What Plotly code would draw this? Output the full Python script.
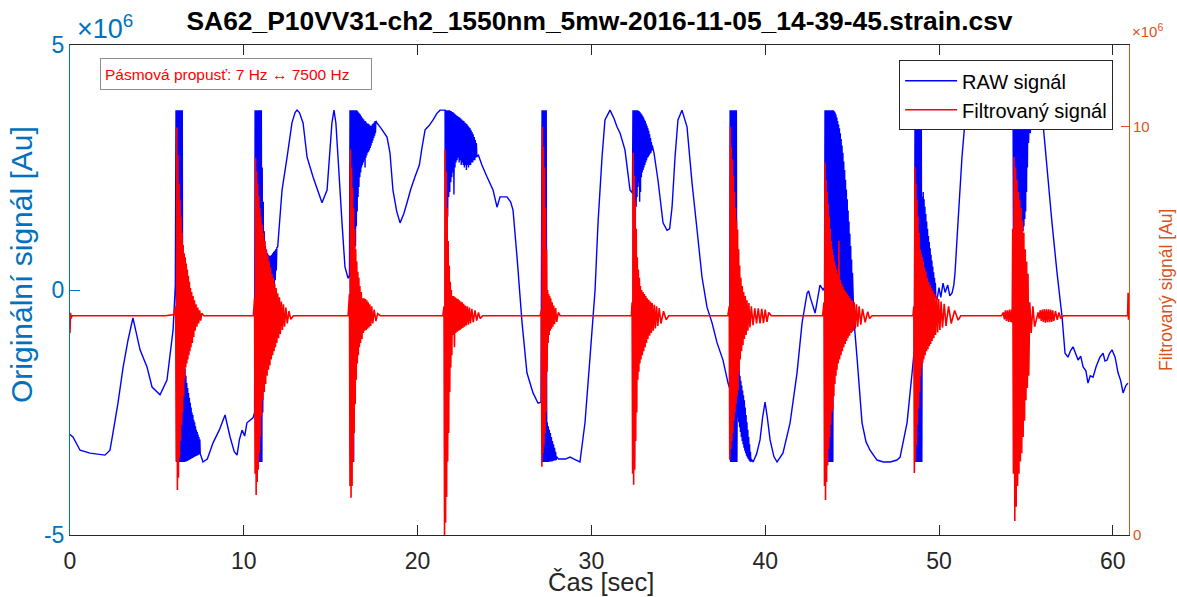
import plotly.graph_objects as go

# ---------------- axis / tick data ----------------
x_ticks = [0, 10, 20, 30, 40, 50, 60]
y_left_ticks = [-5, 0, 5]
y_left_ticktext = ["-5", "0", "5"]
y_right_ticks = [0, 10]


def interleave(upper, lower):
    """Alternate read-off upper/lower envelope samples of a dense oscillation."""
    out = []
    for i, u in enumerate(upper):
        out.append(u)
        if i < len(lower):
            out.append(lower[i])
    return out


# ---------------- RAW signal (x10^6 Au) ----------------
raw_t_s0 = [0.00, 0.17, 0.58, 1.15, 2.01, 2.30, 2.47, 2.76, 3.05, 3.34, 3.62, 4.03, 4.43, 4.72, 5.18, 5.58, 5.93, 6.06]
raw_v_s0 = [-2.95, -3.00, -3.27, -3.33, -3.37, -3.27, -2.92, -2.31, -1.59, -1.02, -0.57, -1.22, -1.57, -1.98, -2.14, -1.84, -0.82, 0.10]
raw_t_b1 = [6.10, 6.13, 6.16, 6.19, 6.22, 6.25, 6.28, 6.31, 6.34, 6.37, 6.40, 6.43, 6.46, 6.49]
raw_v_b1 = [3.67, -3.51, 3.67, -3.51, 3.67, -3.51, 3.67, -3.51, 3.67, -3.51, 3.67, -3.51, 3.67, -3.51]
raw_t_p1 = [6.520, 6.545, 6.570, 6.595, 6.620, 6.645, 6.670, 6.695, 6.720, 6.745, 6.770, 6.795, 6.820, 6.845, 6.870, 6.895, 6.920, 6.945, 6.970, 6.995,
            7.020, 7.045, 7.070, 7.095, 7.120, 7.145, 7.170, 7.195, 7.220, 7.245, 7.270, 7.295, 7.320, 7.345, 7.370, 7.395, 7.420, 7.445, 7.470, 7.495]
raw_u_p1 = [-1.45, -1.50, -1.60, -1.75, -1.90, -2.00, -2.10, -2.20, -2.30, -2.40, -2.50, -2.55, -2.65, -2.70, -2.78, -2.85, -2.90, -2.95, -3.00, -3.05]
raw_l_p1 = [-3.51, -3.51, -3.50, -3.50, -3.49, -3.48, -3.47, -3.46, -3.45, -3.44, -3.43, -3.42, -3.41, -3.40, -3.39, -3.38, -3.37, -3.36, -3.35, -3.35]
raw_t_s1 = [7.55, 7.65, 7.90, 8.23, 8.60, 8.92, 9.05, 9.21, 9.45, 9.61, 9.75, 9.90, 10.05, 10.18, 10.53, 10.62]
raw_v_s1 = [-3.40, -3.51, -3.45, -3.12, -2.85, -2.55, -2.75, -3.00, -3.30, -3.37, -3.05, -2.86, -2.98, -2.71, -2.61, -2.50]
raw_t_b2 = [10.65, 10.68, 10.71, 10.74, 10.77, 10.80, 10.83, 10.86, 10.89, 10.92, 10.95, 10.98, 11.01, 11.04]
raw_v_b2 = [3.67, -3.51, 3.67, -3.51, 3.67, -3.51, 3.67, -3.51, 3.67, -3.51, 3.67, -3.51, 3.67, -3.51]
raw_t_p2 = [11.06, 11.09, 11.12, 11.15, 11.18, 11.21, 11.24, 11.27, 11.30, 11.33, 11.36, 11.39, 11.42, 11.45, 11.48,
            11.51, 11.54, 11.57, 11.60, 11.63, 11.66, 11.69, 11.72, 11.75, 11.78, 11.81, 11.84, 11.87, 11.90]
raw_u_p2 = [2.50, 1.80, 1.20, 0.90, 0.80, 0.75, 0.72, 0.70, 0.70, 0.72, 0.75, 0.78, 0.80, 0.83, 0.86]
raw_l_p2 = [-2.50, -1.50, -0.80, -0.40, -0.25, -0.20, -0.15, -0.12, -0.10, -0.05, 0.00, 0.10, 0.20, 0.40]
raw_t_s2 = [11.95, 12.20, 12.49, 12.77, 12.95, 13.06, 13.20, 13.41, 13.64, 13.98, 14.50, 14.79, 15.07, 15.19, 15.30, 15.42, 15.65, 15.82, 16.00, 16.08]
raw_v_s2 = [0.88, 2.04, 2.71, 3.41, 3.62, 3.67, 3.62, 3.41, 2.71, 2.31, 1.78, 2.04, 3.41, 3.67, 3.40, 2.71, 1.37, 0.47, 0.24, 0.30]
raw_t_b3 = [16.11, 16.14, 16.17, 16.20, 16.23, 16.26, 16.29, 16.32]
raw_v_b3 = [3.67, -3.51, 3.67, -3.51, 3.67, -3.51, 3.67, -3.51]
raw_t_p3 = [16.350, 16.375, 16.400, 16.425, 16.450, 16.475, 16.500, 16.525, 16.550, 16.575, 16.600, 16.625, 16.650, 16.675, 16.700, 16.725, 16.750,
            16.775, 16.800, 16.825, 16.850, 16.875, 16.900, 16.925, 16.950, 16.975, 17.000, 17.025, 17.050, 17.075, 17.100, 17.125, 17.150, 17.175,
            17.200, 17.225, 17.250, 17.275, 17.300, 17.325, 17.350, 17.375, 17.400, 17.425, 17.450, 17.475, 17.500, 17.525, 17.550, 17.575, 17.600]
raw_u_p3 = [3.67, 3.67, 3.67, 3.67, 3.65, 3.62, 3.60, 3.58, 3.55, 3.52, 3.50, 3.48, 3.45, 3.45, 3.42, 3.40, 3.40, 3.38, 3.36, 3.35, 3.35, 3.38, 3.40, 3.42, 3.45, 3.45]
raw_l_p3 = [0.50, 0.90, 1.30, 1.60, 1.90, 2.10, 2.30, 2.40, 2.50, 2.55, 2.60, 2.65, 2.50, 2.70, 2.75, 2.80, 2.82, 2.85, 2.90, 2.95, 3.00, 3.05, 3.10, 3.15, 3.20]
raw_t_s3 = [17.66, 17.90, 18.24, 18.41, 18.58, 18.80, 18.99, 19.20, 19.39, 19.60, 19.85, 20.10, 20.25, 20.43, 20.65, 20.89, 21.10, 21.29, 21.50]
raw_v_s3 = [3.41, 3.30, 3.12, 2.80, 2.04, 1.60, 1.37, 1.55, 1.78, 2.05, 2.31, 2.55, 2.90, 3.27, 3.35, 3.47, 3.60, 3.67, 3.67]
raw_t_b4 = [21.58, 21.61, 21.64, 21.67]
raw_v_b4 = [3.67, -3.51, 3.67, -3.51]
raw_t_p4 = [21.70, 21.73, 21.76, 21.79, 21.82, 21.85, 21.88, 21.91, 21.94, 21.97, 22.00, 22.03, 22.06, 22.09, 22.12, 22.15, 22.18, 22.21, 22.24, 22.27,
            22.30, 22.33, 22.36, 22.39, 22.42, 22.45, 22.48, 22.51, 22.54, 22.57, 22.60, 22.63, 22.66, 22.69, 22.72, 22.75, 22.78, 22.81, 22.84, 22.87,
            22.90, 22.93, 22.96, 22.99, 23.02, 23.05, 23.08, 23.11, 23.14, 23.17, 23.20, 23.23, 23.26, 23.29, 23.32, 23.35, 23.38, 23.41]
raw_u_p4 = [3.67, 3.67, 3.67, 3.66, 3.65, 3.63, 3.62, 3.60, 3.58, 3.56, 3.55, 3.53, 3.52, 3.50, 3.48, 3.46, 3.45, 3.42, 3.40, 3.38, 3.35, 3.32, 3.30, 3.26, 3.22, 3.18, 3.12, 3.06, 3.00]
raw_l_p4 = [1.50, 1.90, 2.00, 2.20, 2.30, 2.40, 1.95, 2.50, 2.60, 2.65, 2.70, 2.60, 2.65, 2.55, 2.60, 2.55, 2.50, 2.55, 2.45, 2.55, 2.50, 2.55, 2.55, 2.60, 2.60, 2.65, 2.65, 2.70, 2.72]
raw_t_s4 = [23.50, 23.70, 23.99, 24.34, 24.57, 24.74, 25.14, 25.35, 25.49, 25.72, 26.01, 26.29, 26.64, 26.93, 27.10]
raw_v_s4 = [2.75, 2.55, 2.31, 2.04, 1.69, 1.90, 1.90, 1.80, 1.63, 0.67, -0.67, -1.69, -2.10, -2.31, -2.29]
raw_t_b5 = [27.16, 27.19, 27.22, 27.25, 27.28, 27.31, 27.34, 27.37, 27.40, 27.43]
raw_v_b5 = [3.67, -3.51, 3.67, -3.51, 3.67, -3.51, 3.67, -3.51, 3.67, -3.51]
raw_t_p5 = [27.46, 27.49, 27.52, 27.55, 27.58, 27.61, 27.64, 27.67, 27.70, 27.73, 27.76, 27.79, 27.82, 27.85, 27.88, 27.91, 27.94, 27.97, 28.00]
raw_u_p5 = [-2.70, -2.78, -2.85, -2.92, -3.00, -3.08, -3.15, -3.22, -3.30, -3.40]
raw_l_p5 = [-3.51, -3.51, -3.50, -3.50, -3.50, -3.49, -3.48, -3.48, -3.47]
raw_t_s5 = [28.10, 28.50, 28.77, 29.00, 29.34, 29.63, 29.92, 30.21, 30.38, 30.61, 30.78, 31.07, 31.30, 31.47, 31.65, 31.93, 32.22, 32.36]
raw_v_s5 = [-3.45, -3.45, -3.41, -3.45, -3.51, -2.71, -1.37, 0.00, 1.37, 2.71, 3.47, 3.67, 3.50, 3.33, 3.20, 2.86, 2.04, 1.98]
raw_t_b6 = [32.39, 32.42, 32.45, 32.48]
raw_v_b6 = [3.67, -3.51, 3.67, -3.51]
raw_t_p6 = [32.500, 32.525, 32.550, 32.575, 32.600, 32.625, 32.650, 32.675, 32.700, 32.725, 32.750, 32.775, 32.800, 32.825, 32.850, 32.875, 32.900,
            32.925, 32.950, 32.975, 33.000, 33.025, 33.050, 33.075, 33.100, 33.125, 33.150, 33.175, 33.200, 33.225, 33.250, 33.275, 33.300, 33.325,
            33.350, 33.375, 33.400, 33.425, 33.450, 33.475, 33.500]
raw_u_p6 = [3.67, 3.67, 3.67, 3.67, 3.66, 3.65, 3.63, 3.60, 3.58, 3.55, 3.52, 3.48, 3.45, 3.40, 3.35, 3.30, 3.25, 3.18, 3.10, 3.02, 2.95]
raw_l_p6 = [1.40, 1.70, 1.90, 2.10, 2.20, 1.80, 2.00, 2.30, 2.40, 2.45, 2.50, 2.55, 2.60, 2.65, 2.70, 2.72, 2.75, 2.78, 2.80, 2.85]
raw_t_s6 = [33.60, 33.83, 34.12, 34.35, 34.50, 34.64, 34.81, 34.98, 35.21, 35.50, 35.79, 36.08, 36.36, 36.65, 36.94, 37.23, 37.57, 37.86, 37.95]
raw_v_s6 = [2.80, 2.24, 1.37, 1.22, 1.25, 1.69, 2.71, 3.47, 3.67, 3.33, 2.18, 1.22, 0.27, -0.35, -0.67, -1.08, -1.43, -1.90, -2.00]
raw_t_b7 = [37.98, 38.01, 38.04, 38.07, 38.10, 38.13, 38.16, 38.19, 38.22, 38.25, 38.28, 38.31, 38.34, 38.37]
raw_v_b7 = [3.67, -3.51, 3.67, -3.51, 3.67, -3.51, 3.67, -3.51, 3.67, -3.51, 3.67, -3.51, 3.67, -3.51]
raw_t_p7 = [38.400, 38.425, 38.450, 38.475, 38.500, 38.525, 38.550, 38.575, 38.600, 38.625, 38.650, 38.675, 38.700, 38.725, 38.750, 38.775, 38.800,
            38.825, 38.850, 38.875, 38.900, 38.925, 38.950, 38.975, 39.000, 39.025, 39.050, 39.075, 39.100, 39.125, 39.150, 39.175, 39.200]
raw_u_p7 = [-1.45, -1.55, -1.65, -1.75, -1.85, -1.95, -2.05, -2.15, -2.25, -2.40, -2.55, -2.70, -2.85, -3.00, -3.15, -3.30, -3.45]
raw_l_p7 = [-2.60, -2.70, -2.80, -2.90, -3.00, -3.08, -3.15, -3.22, -3.28, -3.33, -3.38, -3.42, -3.45, -3.48, -3.50, -3.51]
raw_t_s7 = [39.30, 39.50, 39.70, 39.85, 39.99, 40.12, 40.28, 40.50, 40.68, 41.02, 41.43, 41.83, 42.12, 42.41, 42.50, 42.58, 42.87, 43.15, 43.33, 43.41]
raw_v_s7 = [-3.51, -3.35, -3.06, -2.60, -2.29, -2.60, -3.06, -3.40, -3.51, -3.33, -2.71, -1.69, -0.67, -0.06, -0.02, -0.14, -0.47, 0.10, 0.00, 0.05]
raw_t_b8 = [43.44, 43.47, 43.50, 43.53, 43.56, 43.59, 43.62, 43.65, 43.68, 43.71, 43.74, 43.77, 43.80, 43.83, 43.86, 43.89]
raw_v_b8 = [3.67, -3.51, 3.67, -3.51, 3.67, -3.51, 3.67, -3.51, 3.67, -3.51, 3.67, -3.51, 3.67, -3.51, 3.67, -3.51]
raw_t_p8 = [43.920, 43.945, 43.970, 43.995, 44.020, 44.045, 44.070, 44.095, 44.120, 44.145, 44.170, 44.195, 44.220, 44.245, 44.270, 44.295, 44.320,
            44.345, 44.370, 44.395, 44.420, 44.445, 44.470, 44.495, 44.520, 44.545, 44.570, 44.595, 44.620, 44.645, 44.670, 44.695, 44.720, 44.745,
            44.770, 44.795, 44.820, 44.845, 44.870, 44.895, 44.920, 44.945, 44.970, 44.995, 45.020]
raw_u_p8 = [3.67, 3.65, 3.62, 3.58, 3.52, 3.45, 3.38, 3.30, 3.20, 3.08, 2.95, 2.80, 2.62, 2.45, 2.25, 2.05, 1.85, 1.62, 1.40, 1.15, 0.90, 0.62, 0.35]
raw_l_p8 = [0.60, 0.50, 0.40, 0.30, 0.20, 0.10, 0.00, -0.10, -0.20, -0.28, -0.35, -0.42, -0.50, -0.55, -0.60, -0.65, -0.70, -0.75, -0.80, -0.83, -0.85, -0.85]
raw_t_s8 = [45.10, 45.28, 45.57, 45.80, 46.03, 46.43, 46.80, 47.20, 47.58, 47.76, 48.16, 48.45, 48.58]
raw_v_s8 = [-0.60, -1.37, -2.71, -3.10, -3.27, -3.47, -3.51, -3.51, -3.47, -3.41, -2.71, -1.69, -1.20]
raw_t_b9 = [48.62, 48.65, 48.68, 48.71, 48.74, 48.77, 48.80, 48.83, 48.86, 48.89, 48.92, 48.95, 48.98, 49.01]
raw_v_b9 = [3.67, -3.51, 3.67, -3.51, 3.67, -3.51, 3.67, -3.51, 3.67, -3.51, 3.67, -3.51, 3.67, -3.51]
raw_t_p9 = [49.040, 49.065, 49.090, 49.115, 49.140, 49.165, 49.190, 49.215, 49.240, 49.265, 49.290, 49.315, 49.340, 49.365, 49.390, 49.415,
            49.440, 49.465, 49.490, 49.515, 49.540, 49.565, 49.590, 49.615, 49.640, 49.665, 49.690, 49.715, 49.740, 49.765, 49.790, 49.815]
raw_u_p9 = [1.90, 2.00, 1.85, 1.70, 1.55, 1.40, 1.25, 1.10, 0.98, 0.85, 0.72, 0.60, 0.48, 0.36, 0.25, 0.15]
raw_l_p9 = [-0.30, -0.28, -0.25, -0.22, -0.20, -0.20, -0.20, -0.20, -0.20, -0.20, -0.20, -0.20, -0.20, -0.18, -0.16, -0.15]
raw_t_s9 = [49.88, 50.00, 50.10, 50.23, 50.35, 50.50, 50.62, 50.75, 50.85, 50.92, 51.09, 51.32, 51.50, 51.70, 52.50, 53.30, 53.90, 54.20]
raw_v_s9 = [-0.20, 0.05, -0.15, 0.14, -0.05, 0.10, -0.12, -0.06, 0.10, 0.35, 1.37, 2.71, 3.47, 3.67, 3.67, 3.62, 3.50, 3.60]
raw_t_b10 = [54.260, 54.285, 54.310, 54.335, 54.360, 54.385, 54.410, 54.435, 54.460, 54.485, 54.510, 54.535, 54.560, 54.585, 54.610, 54.635,
             54.660, 54.685, 54.710, 54.735, 54.760, 54.785, 54.810, 54.835, 54.860, 54.885, 54.910, 54.935, 54.960, 54.985, 55.010, 55.035,
             55.060, 55.085, 55.110]
raw_u_b10 = [3.67, 3.67, 3.67, 3.67, 3.67, 3.67, 3.67, 3.67, 3.67, 3.67, 3.67, 3.67, 3.67, 3.67, 3.67, 3.67, 3.67, 3.67]
raw_l_b10 = [0.61, 0.65, 0.70, 0.68, 0.65, 0.72, 0.80, 0.85, 0.90, 1.00, 1.10, 1.20, 1.30, 1.45, 1.60, 2.00, 2.50]
raw_t_b10b = [55.15, 55.20, 55.25, 55.30, 55.35, 55.40, 55.45, 55.50, 55.55, 55.60, 55.65, 55.70, 55.75, 55.80, 55.85]
raw_v_b10b = [3.00, 3.67, 3.20, 3.67, 3.30, 3.67, 3.40, 3.67, 3.45, 3.62, 3.50, 3.60, 3.52, 3.58, 3.55]
raw_t_s10 = [55.98, 56.21, 56.50, 56.79, 57.08, 57.25, 57.42, 57.55, 57.71, 58.00, 58.15, 58.29, 58.45, 58.57, 58.70, 58.86, 59.05, 59.26, 59.44, 59.55, 59.67, 59.80, 59.95, 60.13, 60.30, 60.45, 60.59, 60.75, 60.87]
raw_v_s10 = [3.41, 2.51, 1.37, 0.35, -0.55, -1.29, -1.37, -1.25, -1.16, -1.43, -1.35, -1.57, -1.65, -1.90, -1.75, -1.78, -1.55, -1.37, -1.29, -1.45, -1.43, -1.30, -1.22, -1.37, -1.69, -1.85, -2.10, -1.95, -1.90]

raw_segments = [
    (raw_t_s0, raw_v_s0), (raw_t_b1, raw_v_b1), (raw_t_p1, interleave(raw_u_p1, raw_l_p1)), (raw_t_s1, raw_v_s1),
    (raw_t_b2, raw_v_b2), (raw_t_p2, interleave(raw_u_p2, raw_l_p2)), (raw_t_s2, raw_v_s2),
    (raw_t_b3, raw_v_b3), (raw_t_p3, interleave(raw_u_p3, raw_l_p3)), (raw_t_s3, raw_v_s3),
    (raw_t_b4, raw_v_b4), (raw_t_p4, interleave(raw_u_p4, raw_l_p4)), (raw_t_s4, raw_v_s4),
    (raw_t_b5, raw_v_b5), (raw_t_p5, interleave(raw_u_p5, raw_l_p5)), (raw_t_s5, raw_v_s5),
    (raw_t_b6, raw_v_b6), (raw_t_p6, interleave(raw_u_p6, raw_l_p6)), (raw_t_s6, raw_v_s6),
    (raw_t_b7, raw_v_b7), (raw_t_p7, interleave(raw_u_p7, raw_l_p7)), (raw_t_s7, raw_v_s7),
    (raw_t_b8, raw_v_b8), (raw_t_p8, interleave(raw_u_p8, raw_l_p8)), (raw_t_s8, raw_v_s8),
    (raw_t_b9, raw_v_b9), (raw_t_p9, interleave(raw_u_p9, raw_l_p9)), (raw_t_s9, raw_v_s9),
    (raw_t_b10, interleave(raw_u_b10, raw_l_b10)), (raw_t_b10b, raw_v_b10b), (raw_t_s10, raw_v_s10),
]
raw_t, raw_v = [], []
for k, (ts, vs) in enumerate(raw_segments):
    assert len(ts) == len(vs), ("raw segment", k, len(ts), len(vs))
    raw_t += ts
    raw_v += vs

# ---------------- Filtered signal (x10^6 Au, right axis) ----------------
flt_t_0 = [0.00, 0.03, 0.06, 0.12, 3.00, 5.50, 6.00]
flt_v_0 = [4.95, 5.44, 5.30, 5.37, 5.37, 5.37, 5.40]
flt_t_b1 = [6.08, 6.12, 6.15, 6.18, 6.21, 6.24, 6.27, 6.30, 6.33, 6.36, 6.39, 6.42, 6.45, 6.48, 6.51, 6.54, 6.57, 6.60, 6.63, 6.66, 6.69, 6.72, 6.75, 6.78, 6.81, 6.84, 6.87, 6.90, 6.93, 6.96, 7.00, 7.04, 7.08, 7.12, 7.16, 7.20, 7.25, 7.30, 7.35, 7.40, 7.46, 7.52, 7.58]
flt_v_b1 = [5.60, 1.80, 9.98, 1.10, 9.30, 1.40, 8.60, 1.90, 8.20, 2.30, 7.80, 2.70, 7.40, 3.00, 7.10, 3.40, 6.90, 3.80, 6.80, 4.10, 6.65, 4.20, 6.50, 4.30, 6.35, 4.40, 6.20, 4.50, 6.05, 4.60, 5.95, 4.70, 5.85, 4.85, 5.75, 5.00, 5.65, 5.10, 5.57, 5.18, 5.50, 5.25, 5.43]
flt_t_g1 = [7.70, 10.55]
flt_v_g1 = [5.37, 5.37]
flt_t_b2 = [10.62, 10.65, 10.68, 10.71, 10.74, 10.77, 10.80, 10.83, 10.86, 10.89, 10.92, 10.95, 10.98, 11.02, 11.06, 11.10, 11.14, 11.18, 11.22, 11.26, 11.30, 11.34, 11.38, 11.42, 11.46, 11.50, 11.54, 11.58, 11.62, 11.66, 11.70, 11.74, 11.78, 11.82, 11.86, 11.90, 11.95, 12.00, 12.05, 12.10, 12.16, 12.22, 12.28, 12.34, 12.42, 12.50, 12.60, 12.70]
flt_v_b2 = [5.80, 1.50, 9.24, 0.98, 8.90, 1.30, 8.60, 1.60, 8.30, 2.00, 8.00, 2.40, 7.80, 2.90, 7.60, 3.30, 7.40, 3.50, 7.20, 3.70, 7.00, 3.90, 6.85, 4.05, 6.70, 4.15, 6.55, 4.30, 6.40, 4.40, 6.30, 4.50, 6.15, 4.60, 6.05, 4.70, 5.92, 4.82, 5.82, 4.92, 5.72, 5.02, 5.65, 5.10, 5.57, 5.18, 5.48, 5.28]
flt_t_g2 = [12.85, 16.00]
flt_v_g2 = [5.37, 5.37]
flt_t_b3 = [16.08, 16.11, 16.14, 16.17, 16.20, 16.23, 16.26, 16.29, 16.32, 16.35, 16.38, 16.41, 16.44, 16.47, 16.50, 16.53, 16.56, 16.59, 16.62, 16.65, 16.68, 16.72, 16.76, 16.80, 16.84, 16.88, 16.92, 16.96, 17.00, 17.04, 17.08, 17.12, 17.16, 17.20, 17.25, 17.30, 17.36, 17.42, 17.50, 17.60, 17.70]
flt_v_b3 = [5.90, 1.20, 9.44, 0.91, 9.00, 1.20, 8.50, 1.80, 8.00, 2.50, 7.50, 3.20, 7.00, 3.80, 6.70, 4.20, 6.45, 4.40, 6.30, 4.60, 6.10, 4.70, 5.95, 4.80, 5.80, 4.95, 5.80, 5.00, 5.78, 5.02, 5.75, 5.05, 5.70, 5.08, 5.65, 5.12, 5.60, 5.18, 5.52, 5.24, 5.42]
flt_t_g3 = [17.85, 21.45]
flt_v_g3 = [5.37, 5.37]
flt_t_b4 = [21.52, 21.55, 21.58, 21.61, 21.64, 21.67, 21.70, 21.73, 21.76, 21.79, 21.82, 21.85, 21.88, 21.91, 21.94, 21.97, 22.00, 22.04, 22.08, 22.12, 22.16, 22.20, 22.24, 22.28, 22.32, 22.36, 22.40, 22.44, 22.48, 22.52, 22.56, 22.60, 22.65, 22.70, 22.75, 22.80, 22.86, 22.92, 22.98, 23.04, 23.12, 23.20, 23.30, 23.40, 23.50, 23.60]
flt_v_b4 = [5.60, 0.00, 9.44, 0.30, 8.90, 0.93, 8.00, 1.80, 7.20, 2.50, 6.60, 3.50, 6.20, 4.10, 6.00, 4.40, 5.85, 4.90, 5.85, 4.60, 5.82, 4.95, 5.80, 4.98, 5.78, 5.00, 5.75, 5.02, 5.72, 5.05, 5.70, 5.07, 5.66, 5.10, 5.62, 5.13, 5.60, 5.15, 5.57, 5.18, 5.54, 5.21, 5.50, 5.25, 5.45, 5.30]
flt_t_g4 = [23.75, 27.05]
flt_v_g4 = [5.37, 5.37]
flt_t_b5 = [27.12, 27.15, 27.18, 27.21, 27.24, 27.27, 27.30, 27.33, 27.36, 27.39, 27.42, 27.45, 27.48, 27.51, 27.54, 27.57, 27.60, 27.63, 27.66, 27.70, 27.74, 27.78, 27.83, 27.88, 27.94, 28.00, 28.10]
flt_v_b5 = [5.50, 1.67, 10.00, 2.00, 9.50, 2.20, 9.00, 2.50, 8.00, 3.00, 7.00, 4.00, 6.00, 4.70, 5.90, 4.90, 5.85, 5.00, 5.80, 5.05, 5.70, 5.10, 5.62, 5.16, 5.56, 5.22, 5.45]
flt_t_g5 = [28.20, 32.30]
flt_v_g5 = [5.37, 5.37]
flt_t_b6 = [32.34, 32.37, 32.40, 32.43, 32.46, 32.49, 32.52, 32.55, 32.58, 32.61, 32.64, 32.67, 32.70, 32.73, 32.76, 32.79, 32.82, 32.85, 32.89, 32.93, 32.97, 33.01, 33.05, 33.09, 33.13, 33.17, 33.21, 33.25, 33.30, 33.35, 33.40, 33.45, 33.50, 33.56, 33.62, 33.68, 33.75, 33.82, 33.90, 34.00, 34.15, 34.30]
flt_v_b6 = [5.70, 1.50, 9.36, 1.23, 8.80, 1.60, 8.20, 2.30, 7.50, 3.00, 6.80, 3.80, 6.50, 4.00, 6.30, 4.20, 6.10, 4.30, 6.00, 4.40, 5.95, 4.50, 5.90, 4.60, 5.85, 4.70, 5.80, 4.80, 5.76, 4.88, 5.72, 4.95, 5.68, 5.00, 5.64, 5.06, 5.60, 5.12, 5.56, 5.18, 5.48, 5.27]
flt_t_g6 = [34.45, 37.85]
flt_v_g6 = [5.37, 5.37]
flt_t_b7 = [37.93, 37.96, 37.99, 38.02, 38.05, 38.08, 38.11, 38.14, 38.17, 38.20, 38.23, 38.26, 38.29, 38.32, 38.35, 38.38, 38.41, 38.44, 38.47, 38.50, 38.53, 38.56, 38.60, 38.64, 38.68, 38.72, 38.76, 38.80, 38.85, 38.90, 38.95, 39.00, 39.06, 39.12, 39.20, 39.30, 39.40, 39.50, 39.60, 39.70, 39.80, 39.90, 40.00, 40.10, 40.20]
flt_v_b7 = [5.60, 1.84, 10.00, 2.10, 9.50, 2.30, 9.20, 2.50, 8.80, 2.80, 8.40, 3.00, 8.00, 3.20, 7.70, 3.40, 7.48, 3.55, 7.00, 4.00, 6.60, 4.30, 6.30, 4.50, 6.10, 4.65, 5.95, 4.80, 5.85, 4.90, 5.75, 5.00, 5.68, 5.08, 5.60, 5.14, 5.55, 5.18, 5.55, 5.18, 5.54, 5.19, 5.52, 5.22, 5.45]
flt_t_g7 = [40.35, 43.30]
flt_v_g7 = [5.37, 5.37]
flt_t_b8 = [43.38, 43.41, 43.44, 43.47, 43.50, 43.53, 43.56, 43.59, 43.62, 43.65, 43.68, 43.71, 43.74, 43.77, 43.80, 43.83, 43.86, 43.89, 43.92, 43.95, 43.98, 44.01, 44.04, 44.07, 44.10, 44.13, 44.16, 44.20, 44.24, 44.28, 44.32, 44.36, 44.40, 44.44, 44.48, 44.52, 44.56, 44.60, 44.64, 44.68, 44.72, 44.76, 44.80, 44.85, 44.90, 44.95, 45.00, 45.06, 45.12, 45.18, 45.25, 45.32, 45.40, 45.50, 45.60, 45.75, 45.90, 46.00]
flt_v_b8 = [5.70, 1.20, 9.12, 0.86, 8.70, 1.30, 8.40, 1.70, 8.10, 2.10, 7.80, 2.40, 7.50, 2.70, 7.20, 3.00, 7.00, 3.06, 6.85, 3.40, 6.70, 3.70, 6.60, 3.90, 6.50, 4.05, 6.40, 4.20, 7.20, 4.30, 6.25, 4.40, 6.15, 4.50, 6.08, 4.60, 6.00, 4.68, 5.95, 4.75, 5.90, 4.82, 5.85, 4.88, 5.80, 4.95, 5.75, 5.00, 5.70, 5.05, 5.65, 5.10, 5.60, 5.15, 5.54, 5.21, 5.47, 5.30]
flt_t_g8 = [46.15, 48.50]
flt_v_g8 = [5.37, 5.37]
flt_t_b9 = [48.55, 48.58, 48.61, 48.64, 48.67, 48.70, 48.73, 48.76, 48.79, 48.82, 48.85, 48.88, 48.91, 48.94, 48.97, 49.00, 49.03, 49.06, 49.09, 49.12, 49.16, 49.20, 49.24, 49.28, 49.32, 49.36, 49.40, 49.44, 49.48, 49.52, 49.56, 49.60, 49.65, 49.70, 49.75, 49.80, 49.86, 49.92, 49.98, 50.05, 50.12, 50.20, 50.30, 50.40, 50.55, 50.70, 50.90, 51.10]
flt_v_b9 = [5.60, 1.52, 9.02, 1.80, 8.60, 2.20, 8.20, 2.70, 7.80, 3.10, 7.40, 3.50, 7.00, 3.90, 6.90, 4.10, 6.81, 4.22, 6.70, 4.30, 6.55, 4.40, 6.45, 4.50, 6.30, 4.55, 6.20, 4.62, 6.12, 4.68, 6.05, 4.75, 5.98, 4.82, 5.90, 4.90, 5.84, 4.96, 5.78, 5.02, 5.72, 5.08, 5.66, 5.12, 5.60, 5.18, 5.50, 5.26]
flt_t_g9 = [51.25, 53.60]
flt_v_g9 = [5.37, 5.37]
flt_t_b10 = [53.70, 53.76, 53.82, 53.88, 53.94, 54.00, 54.06, 54.12, 54.18, 54.21, 54.24, 54.28, 54.32, 54.36, 54.40, 54.44, 54.48, 54.52, 54.56, 54.60, 54.64, 54.68, 54.72, 54.76, 54.80, 54.84, 54.88, 54.92, 54.96, 55.00, 55.04, 55.08, 55.12, 55.16, 55.22, 55.30, 55.40, 55.50, 55.70, 55.76, 55.82, 55.88, 55.94, 56.00, 56.06, 56.12, 56.18, 56.24, 56.30, 56.36, 56.42, 56.48, 56.54, 56.60, 56.70, 56.80, 56.90, 57.00]
flt_v_b10 = [5.45, 5.28, 5.50, 5.24, 5.50, 5.22, 5.52, 5.22, 5.52, 5.20, 7.50, 1.50, 9.26, 0.34, 9.00, 0.69, 8.70, 1.20, 8.40, 1.50, 8.20, 1.80, 8.00, 2.00, 7.70, 2.40, 7.40, 2.80, 7.00, 3.30, 6.70, 3.60, 6.40, 3.90, 5.70, 4.95, 5.60, 5.10, 5.45, 5.30, 5.50, 5.24, 5.52, 5.22, 5.53, 5.20, 5.53, 5.21, 5.53, 5.21, 5.52, 5.22, 5.50, 5.24, 5.48, 5.27, 5.45, 5.30]
flt_t_g10 = [57.15, 60.85, 60.88, 60.90]
flt_v_g10 = [5.37, 5.37, 5.93, 5.27]

flt_segments = [
    (flt_t_0, flt_v_0), (flt_t_b1, flt_v_b1), (flt_t_g1, flt_v_g1), (flt_t_b2, flt_v_b2), (flt_t_g2, flt_v_g2),
    (flt_t_b3, flt_v_b3), (flt_t_g3, flt_v_g3), (flt_t_b4, flt_v_b4), (flt_t_g4, flt_v_g4), (flt_t_b5, flt_v_b5),
    (flt_t_g5, flt_v_g5), (flt_t_b6, flt_v_b6), (flt_t_g6, flt_v_g6), (flt_t_b7, flt_v_b7), (flt_t_g7, flt_v_g7),
    (flt_t_b8, flt_v_b8), (flt_t_g8, flt_v_g8), (flt_t_b9, flt_v_b9), (flt_t_g9, flt_v_g9), (flt_t_b10, flt_v_b10),
    (flt_t_g10, flt_v_g10),
]
flt_t, flt_v = [], []
for k, (ts, vs) in enumerate(flt_segments):
    assert len(ts) == len(vs), ("filtered segment", k, len(ts), len(vs))
    flt_t += ts
    flt_v += vs

# ---------------- figure ----------------
BLUE_AX = "#0072BD"
ORANGE_AX = "#D95319"
DARK = "#262626"
FONT = "Liberation Sans, Arial, Helvetica, sans-serif"

fig = go.Figure()
fig.add_trace(go.Scatter(x=raw_t, y=raw_v, mode="lines", name="RAW signál",
                         line=dict(color="#0000FF", width=1.4, simplify=False), yaxis="y"))
fig.add_trace(go.Scatter(x=flt_t, y=flt_v, mode="lines", name="Filtrovaný signál",
                         line=dict(color="#FF0000", width=1.6, simplify=False), yaxis="y2"))

fig.update_layout(
    width=1177, height=597,
    margin=dict(l=70, r=48, t=45, b=62),
    paper_bgcolor="white", plot_bgcolor="white",
    font=dict(family=FONT, color=DARK),
    title=dict(text="<b>SA62_P10VV31-ch2_1550nm_5mw-2016-11-05_14-39-45.strain.csv</b>",
               x=599.5 / 1177, xanchor="center", y=1 - 21 / 597, yanchor="middle",
               font=dict(size=26.4, color="black", family=FONT)),
    xaxis=dict(range=[0, 60.93], tickvals=x_ticks, ticks="inside", ticklen=10, tickcolor=DARK,
               showline=True, linecolor=DARK, linewidth=1, mirror="ticks",
               showgrid=False, zeroline=False, tickfont=dict(size=23, color=DARK),
               ticklabelstandoff=5),
    yaxis=dict(range=[-5, 5], tickvals=y_left_ticks, ticktext=y_left_ticktext, ticks="inside",
               ticklen=10, tickcolor=BLUE_AX, showline=True, linecolor=BLUE_AX, linewidth=1,
               showgrid=False, zeroline=False, tickfont=dict(size=23, color=BLUE_AX)),
    yaxis2=dict(range=[0, 12], overlaying="y", side="right", tickvals=y_right_ticks, ticks="inside",
                ticklen=8, tickcolor=ORANGE_AX, showline=True, linecolor=ORANGE_AX, linewidth=1,
                showgrid=False, zeroline=False, tickfont=dict(size=15, color=ORANGE_AX)),
    legend=dict(x=0.985, xanchor="right", y=0.969, yanchor="top", bgcolor="white",
                bordercolor=DARK, borderwidth=1, itemwidth=52,
                font=dict(size=20, color="black", family=FONT)),
    showlegend=True,
)

annotations = [
    dict(text="Pásmová propusť: 7 Hz ↔ 7500 Hz", xref="paper", yref="paper",
         x=30 / 1059, xanchor="left", y=(535 - 74) / 490, yanchor="middle", showarrow=False,
         font=dict(size=15.5, color="#FF0000", family=FONT), bordercolor="#8c8c8c", borderwidth=1,
         borderpad=4, bgcolor="white", width=262, height=22, align="left"),
    dict(text="×10<sup>6</sup>", xref="paper", yref="paper", x=5 / 1059, xanchor="left",
         y=(535 - 27) / 490, yanchor="middle", showarrow=False,
         font=dict(size=27, color=BLUE_AX, family=FONT)),
    dict(text="×10<sup>6</sup>", xref="paper", yref="paper", x=1.001, xanchor="left",
         y=(535 - 30) / 490, yanchor="middle", showarrow=False,
         font=dict(size=15, color=ORANGE_AX, family=FONT)),
    dict(text="Čas [sec]", xref="paper", yref="paper", x=(601 - 70) / 1059, xanchor="center",
         y=(535 - 582) / 490, yanchor="middle", showarrow=False,
         font=dict(size=25.5, color=DARK, family=FONT)),
    dict(text="Originální signál [Au]", xref="paper", yref="paper", x=(21 - 70) / 1059, xanchor="center",
         y=(535 - 265) / 490, yanchor="middle", showarrow=False, textangle=-90,
         font=dict(size=30, color=BLUE_AX, family=FONT)),
    dict(text="Filtrovaný signál [Au]", xref="paper", yref="paper", x=(1166 - 70) / 1059, xanchor="center",
         y=(535 - 290) / 490, yanchor="middle", showarrow=False, textangle=-90,
         font=dict(size=17.5, color=ORANGE_AX, family=FONT)),
]
fig.update_layout(annotations=annotations)

fig.write_html("out.html")
